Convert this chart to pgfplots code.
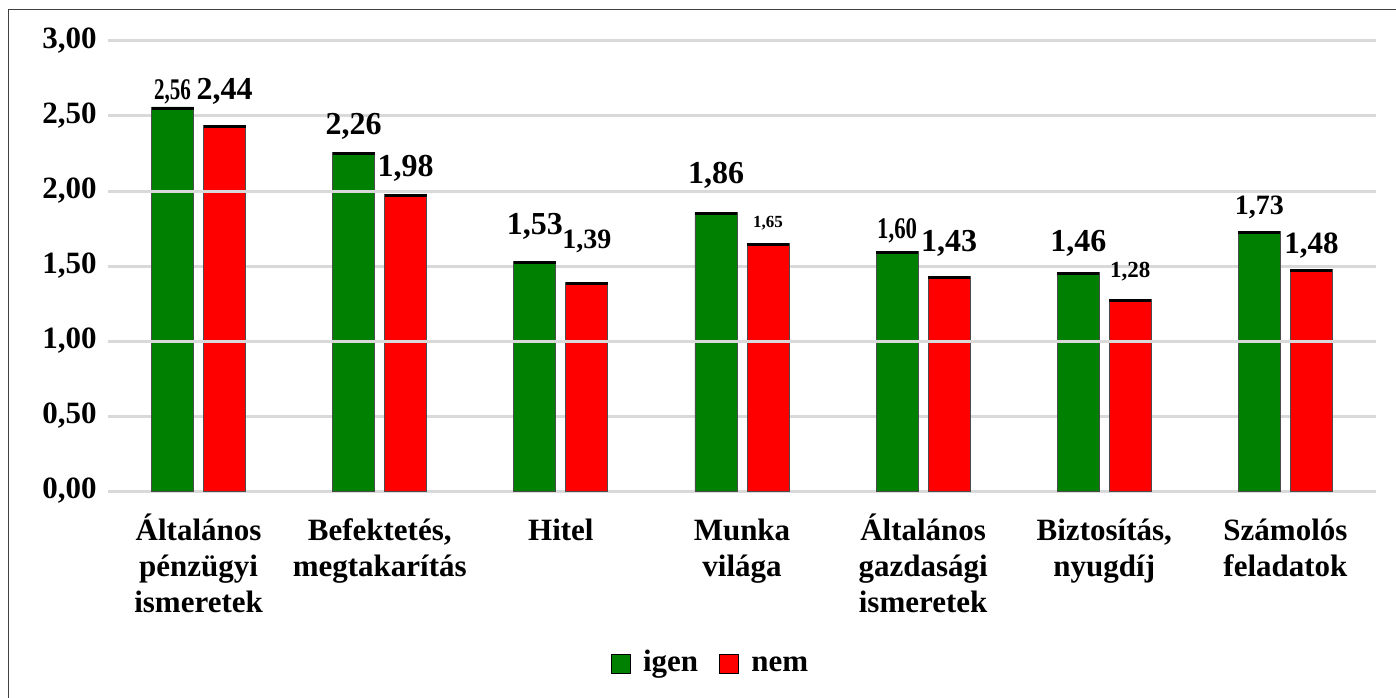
\documentclass[border=0pt]{standalone}
\usepackage{pgfplots}
\pgfplotsset{compat=1.18}
\usepackage{pgfplotstable}
\usepackage{fontspec}
\setmainfont{Liberation Serif}
\definecolor{igen}{HTML}{008000}
\definecolor{nem}{HTML}{FF0000}
\definecolor{gridc}{HTML}{D9D9D9}
\newcommand\T{\rule{0pt}{14.5pt}}

\pgfplotstableread{
x y fs sx dy
0 2.56 15 0.70 3.5
1 2.26 16 1 8.5
2 1.53 16 1 13.5
3 1.86 16 1 14
4 1.60 15 0.76 6
5 1.46 16 1 10
6 1.73 14 1 8.5
}\igentab
\pgfplotstableread{
x y fs sx dy
0 2.44 16 1 12.5
1 1.98 16 1 8.5
2 1.39 14 1 17
3 1.65 8.5 1 8
4 1.43 16 1 12.5
5 1.28 11.5 1 10.5
6 1.48 15.5 1 7.5
}\nemtab

\begin{document}
\begin{tikzpicture}
\path[use as bounding box] (0,0) rectangle (698pt,348.5pt);
\draw[black!75, line width=0.75pt] (4.25pt,-2pt) -- (4.25pt,343.75pt) -- (705pt,343.75pt);
\begin{axis}[
  at={(54pt,103pt)}, anchor=south west,
  scale only axis, width=634pt, height=225pt,
  ybar=5pt, bar width=21pt,
  xmin=-0.5, xmax=6.5, ymin=0, ymax=3,
  ytick={0,0.5,1,1.5,2,2.5,3},
  xtick={0,1,2,3,4,5,6},
  xticklabels={{\T Általános\\pénzügyi\\ismeretek},{\T Befektetés,\\megtakarítás},{\T Hitel},{\T Munka\\világa},{\T Általános\\gazdasági\\ismeretek},{\T Biztosítás,\\nyugdíj},{\T Számolós\\feladatok}},
  xticklabel style={align=center, font=\bfseries\fontsize{15.5}{18}\selectfont, anchor=north, inner sep=0pt, yshift=-6pt},
  yticklabel={\pgfmathprintnumber[fixed,fixed zerofill,precision=2,use comma,assume math mode=true]{\tick}},
  yticklabel style={font=\bfseries\fontsize{15.5}{15.5}\selectfont, inner sep=0pt, xshift=-5.5pt},
  axis line style={draw=none},
  tick style={draw=none},
  ymajorgrids,
  grid style={draw=gridc, line width=1.5pt},
  legend style={at={(0.476,-0.385)}, anchor=center, draw=none, fill=none,
    font=\bfseries\fontsize{15.5}{15.5}\selectfont, legend columns=-1,
    nodes={text height=10.5pt, text depth=3.5pt},
    /tikz/every odd column/.append style={column sep=4pt},
    /tikz/every even column/.append style={column sep=8.5pt}},
  nodes near coords={\vbox{\offinterlineskip\hbox to 21pt{\hss\raisebox{0pt}[\height][0pt]{\scalebox{\sx}[1]{\pgfmathprintnumber[fixed,fixed zerofill,precision=2,use comma,assume math mode=true]{\pgfplotspointmeta}}}\hss}\kern\dy pt\hbox{\rule{21pt}{1.5pt}}}},
  visualization depends on={\thisrow{fs} \as \fs},
  visualization depends on={\thisrow{sx} \as \sx},
  visualization depends on={\thisrow{dy} \as \dy},
  every node near coord/.append style={font=\bfseries\fontsize{\fs}{\fs}\selectfont, anchor=south, yshift=-1.5pt, inner sep=0pt, black},
]
\addplot[fill=igen, draw=black!70, line width=0.4pt,
  legend image code/.code={\draw[fill=igen, draw=black, line width=0.6pt] (0pt,-4.75pt) rectangle (9.5pt,4.75pt);}
] table[x=x, y=y] {\igentab};
\addlegendentry{igen}
\addplot[fill=nem, draw=black!70, line width=0.4pt,
  legend image code/.code={\draw[fill=nem, draw=black, line width=0.6pt] (0pt,-4.75pt) rectangle (9.5pt,4.75pt);}
] table[x=x, y=y] {\nemtab};
\addlegendentry{nem}
\draw[gridc, line width=1.5pt] (axis cs:-0.5,1) -- (axis cs:6.5,1);
\draw[gridc, line width=1.5pt] (axis cs:-0.5,2) -- (axis cs:6.5,2);
\end{axis}
\end{tikzpicture}
\end{document}
